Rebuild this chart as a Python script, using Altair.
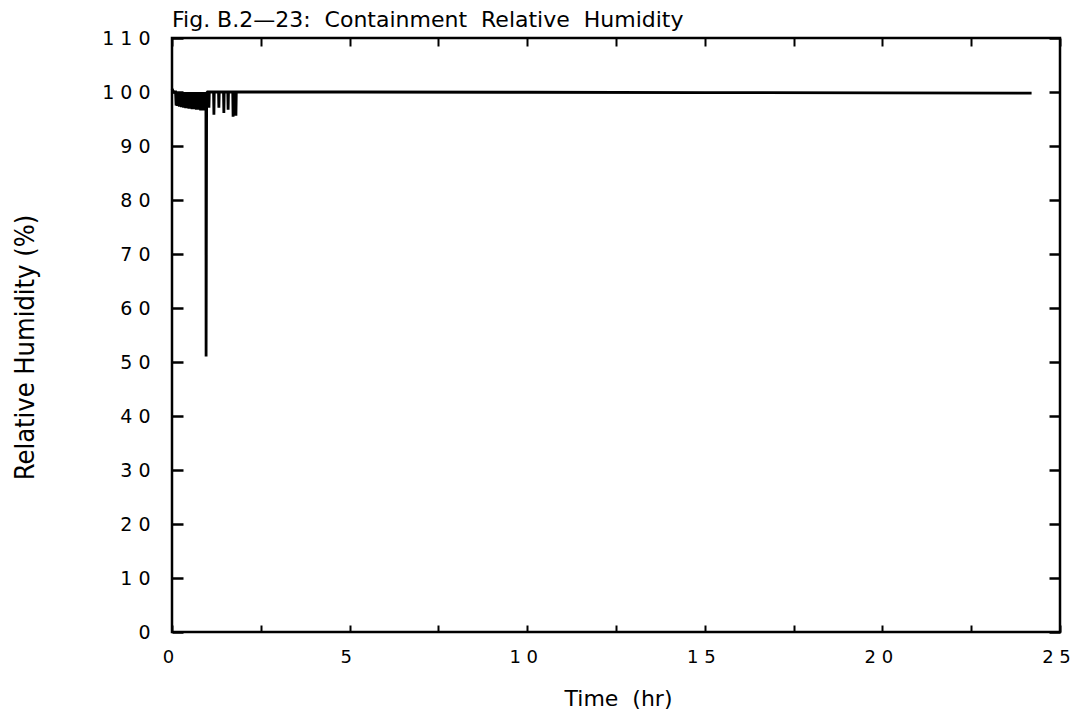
import altair as alt
import pandas as pd

# ---- data ----
TIME = [
    0.00, 0.03, 0.06,
    0.100, 0.115, 0.130, 0.145, 0.160, 0.175, 0.190, 0.205, 0.220, 0.235,
    0.250, 0.265, 0.280, 0.295, 0.310, 0.325, 0.340, 0.355, 0.370, 0.385,
    0.400, 0.415, 0.430, 0.445, 0.460, 0.475, 0.490, 0.505, 0.520, 0.535,
    0.550, 0.565, 0.580, 0.595, 0.610, 0.625, 0.640, 0.655, 0.670, 0.685,
    0.700, 0.715, 0.730, 0.745, 0.760, 0.775, 0.790, 0.805, 0.820, 0.835,
    0.850, 0.865, 0.880, 0.895, 0.910, 0.925, 0.940, 0.955, 0.960, 0.975, 1.00,
    1.03, 1.04, 1.05, 1.17, 1.18, 1.19, 1.31, 1.32, 1.33, 1.45, 1.46, 1.47,
    1.57, 1.58, 1.59, 1.71, 1.72, 1.73, 1.79, 1.80, 1.81,
    2.5, 5.0, 10.0, 15.0, 20.0, 24.2,
]
RH = [
    100.6, 100.2, 100.0,
    100.0, 97.5, 100.0, 97.4, 100.0, 97.4, 100.0, 97.3, 100.0, 97.3,
    100.0, 97.2, 100.0, 97.2, 100.0, 97.1, 100.0, 97.1, 100.0, 97.0,
    100.0, 97.0, 100.0, 97.0, 100.0, 96.9, 100.0, 96.9, 100.0, 96.9,
    100.0, 96.8, 100.0, 96.8, 100.0, 96.8, 100.0, 96.8, 100.0, 96.7,
    100.0, 96.7, 100.0, 96.7, 100.0, 96.7, 100.0, 96.6, 100.0, 96.6,
    100.0, 96.6, 100.0, 96.6, 100.0, 96.6, 100.0, 96.6, 51.0, 99.8, 100.0,
    100.0, 97.1, 100.0, 100.0, 95.8, 100.0, 100.0, 97.1, 100.0, 100.0, 96.1, 100.0,
    100.0, 96.7, 100.0, 100.0, 95.4, 100.0, 100.0, 95.6, 100.0,
    100.0, 100.0, 99.95, 99.9, 99.85, 99.8,
]

X_LABEL_VALUES = [0, 5, 10, 15, 20, 25]
X_TICK_VALUES = [0, 2.5, 5, 7.5, 10, 12.5, 15, 17.5, 20, 22.5, 25]
Y_VALUES = [0, 10, 20, 30, 40, 50, 60, 70, 80, 90, 100, 110]

TITLE = "Fig. B.2\u201423:\u00a0 Containment\u00a0 Relative\u00a0 Humidity"
X_TITLE = "Time\u00a0 (hr)"
Y_TITLE = "Relative Humidity (%)"

df = pd.DataFrame({"t": TIME, "rh": RH})

FONT = "DejaVu Sans"
NARROW = "Liberation Sans Narrow, DejaVu Sans Condensed, Roboto Condensed, Arial Narrow, sans-serif"
SPACED = "join(split(datum.label, ''), ' ')"

xs = alt.Scale(domain=[0, 25], nice=False, zero=False)
ys = alt.Scale(domain=[0, 110], nice=False, zero=False)

main = alt.Chart(df).mark_line(color="black", strokeWidth=2.8).encode(
    x=alt.X(
        "t:Q", scale=xs,
        axis=alt.Axis(
            orient="bottom", values=X_LABEL_VALUES, domain=False, ticks=False, tickSize=0,
            grid=False, labelExpr=SPACED, labelFont=FONT, labelFontSize=18,
            labelColor="black", labelPadding=16, labelFlush=False, labelOffset=-4,
            title=X_TITLE, titleFont=FONT, titleFontSize=22, titleFontWeight="normal",
            titleColor="black", titleX=446, titleY=73, titleAlign="center",
            titleBaseline="alphabetic",
        ),
    ),
    y=alt.Y(
        "rh:Q", scale=ys,
        axis=alt.Axis(
            orient="left", values=Y_VALUES, domain=False, ticks=False, tickSize=0,
            grid=False, labelExpr=SPACED, labelFont=FONT, labelFontSize=19,
            labelColor="black", labelPadding=22, labelFlush=False,
            title=Y_TITLE, titleFont=NARROW, titleFontSize=27, titleFontWeight="normal",
            titleColor="black", titleX=-139, titleY=309, titleAlign="center",
            titleBaseline="alphabetic", titleAngle=270,
        ),
    ),
)

inner_bl = alt.Chart(df).mark_line(opacity=0).encode(
    x=alt.X(
        "t:Q", scale=xs,
        axis=alt.Axis(
            orient="bottom", values=X_TICK_VALUES, domain=False, labels=False,
            grid=False, ticks=True, tickSize=7, offset=-7, tickColor="black",
            tickWidth=2, title=None,
        ),
    ),
    y=alt.Y(
        "rh:Q", scale=ys,
        axis=alt.Axis(
            orient="left", values=Y_VALUES, domain=False, labels=False,
            grid=False, ticks=True, tickSize=11, offset=-11, tickColor="black",
            tickWidth=2.5, title=None,
        ),
    ),
)

inner_tr = alt.Chart(df).mark_line(opacity=0).encode(
    x=alt.X(
        "t:Q", scale=xs,
        axis=alt.Axis(
            orient="top", values=X_TICK_VALUES, domain=False, labels=False,
            grid=False, ticks=True, tickSize=8, offset=-8, tickColor="black",
            tickWidth=2, title=None,
        ),
    ),
    y=alt.Y(
        "rh:Q", scale=ys,
        axis=alt.Axis(
            orient="right", values=Y_VALUES, domain=False, labels=False,
            grid=False, ticks=True, tickSize=11, offset=-11, tickColor="black",
            tickWidth=2.5, title=None,
        ),
    ),
)

chart = (
    alt.layer(main, inner_bl, inner_tr)
    .resolve_axis(x="independent", y="independent")
    .properties(
        width=888,
        height=594,
        autosize=alt.AutoSizeParams(type="none"),
        padding={"left": 164, "top": 30, "right": 11, "bottom": 80},
        background="white",
        title=alt.Title(
            TITLE, anchor="start", frame="group", font=FONT, fontSize=22,
            fontWeight="normal", color="black", offset=-3, orient="top",
        ),
    )
    .configure_view(stroke="black", strokeWidth=2.5)
)

chart.save("out.html", embed_options={"renderer": "svg", "actions": False})
